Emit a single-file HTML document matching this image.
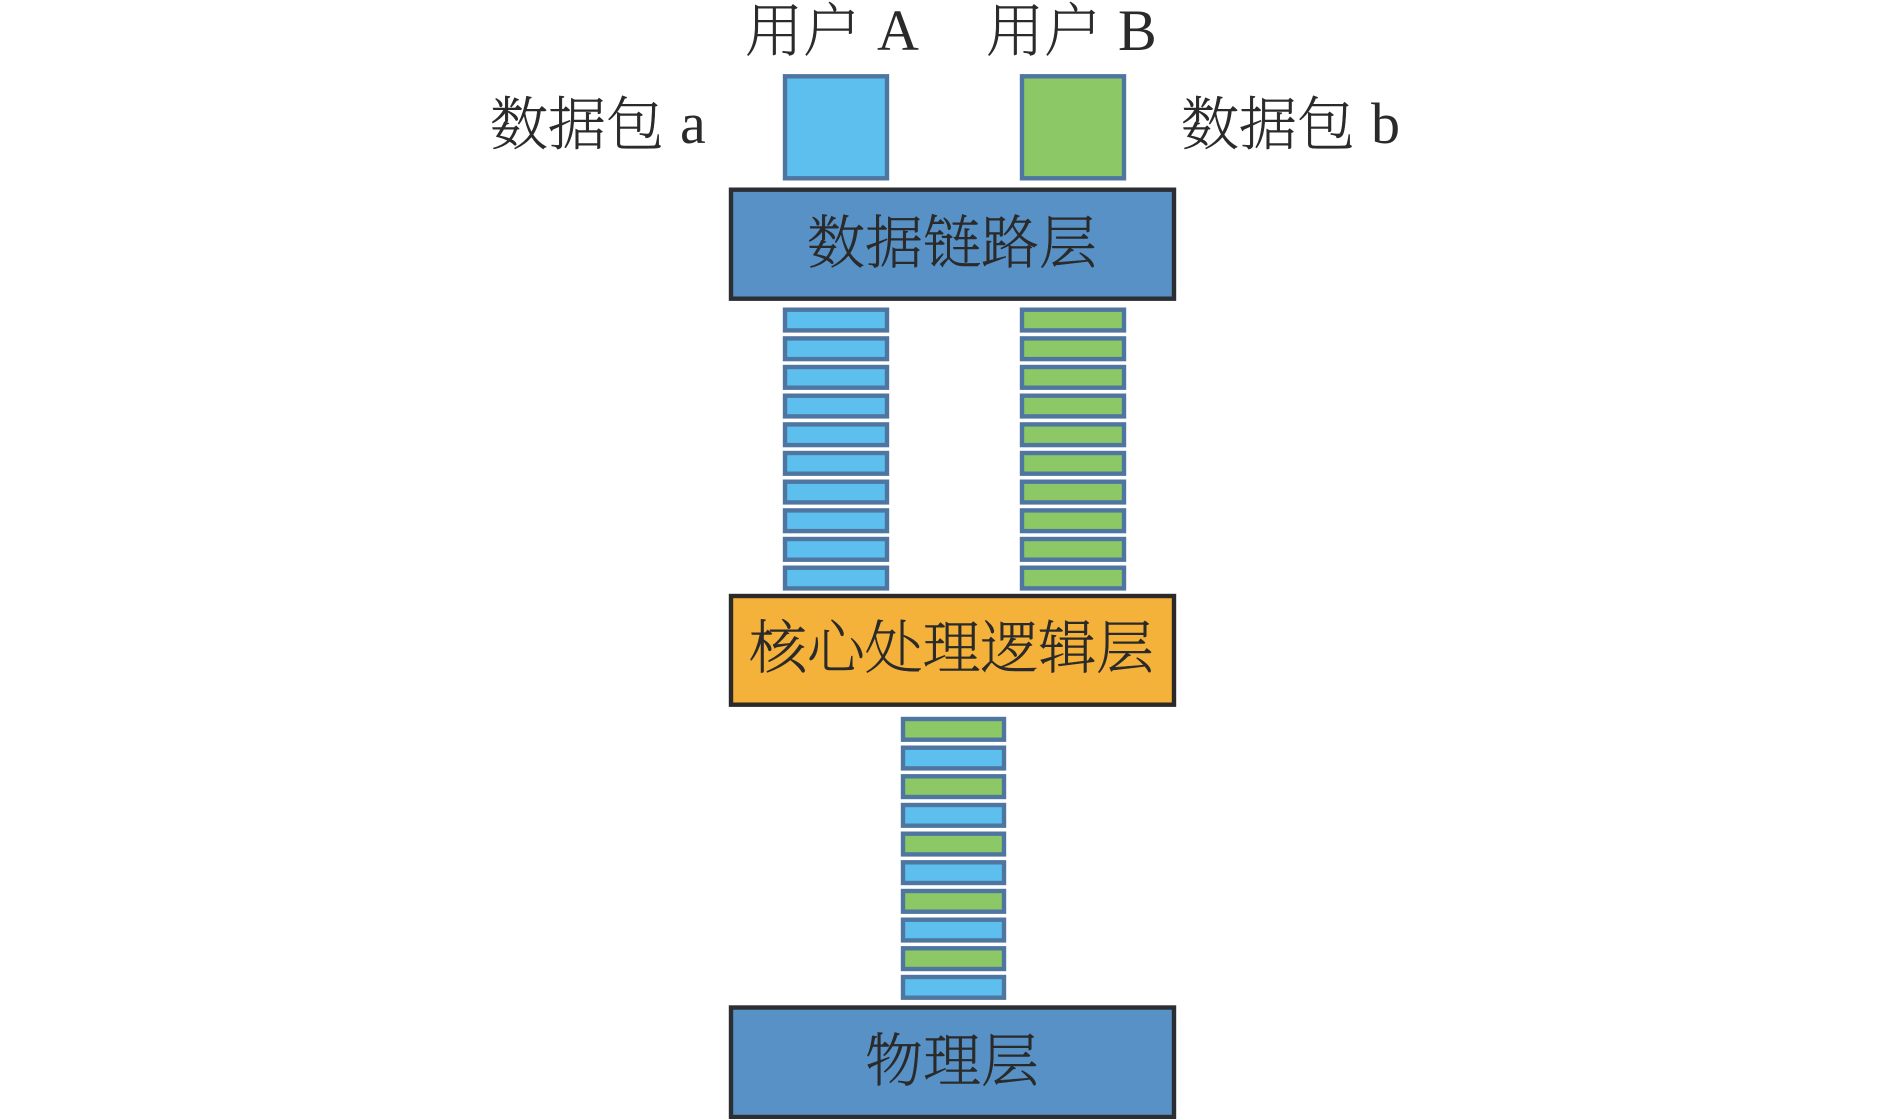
<!DOCTYPE html>
<html lang="zh">
<head>
<meta charset="utf-8">
<title>数据链路层</title>
<style>
html,body{margin:0;padding:0;background:#fff}
svg{display:block}
text{font-family:"Liberation Serif","Noto Serif CJK SC",serif;fill:#2a2a2a;font-size:58px}
.c{font-family:"Noto Serif CJK SC","Liberation Serif",serif;font-weight:200;stroke:#2a2a2a;stroke-width:.5px}
.a{fill:#5dbfee;stroke:#4f76a0;stroke-width:4.4}
.g{fill:#8cc865;stroke:#4f76a0;stroke-width:4.4}
.b{fill:#5791c6;stroke:#2b2e33;stroke-width:4.4}
.o{fill:#f5b23b;stroke:#2b2a28;stroke-width:4.4}
</style>
</head>
<body>
<svg width="1890" height="1119" viewBox="0 0 1890 1119" xmlns="http://www.w3.org/2000/svg">
<rect width="1890" height="1119" fill="#fff"/>

<text class="c" x="745" y="51">用户</text><text x="877" y="50">A</text>
<text class="c" x="986" y="51">用户</text><text x="1118" y="50">B</text>
<text class="c" x="490" y="144.5">数据包</text><text x="680" y="143">a</text>
<text class="c" x="1181" y="144.5">数据包</text><text x="1371" y="143">b</text>

<rect class="a" x="785" y="76.3" width="102" height="102"/>
<rect class="g" x="1022" y="76.3" width="102" height="102"/>

<rect class="b" x="731" y="189.7" width="443" height="109"/>
<text class="c" x="807" y="263">数据链路层</text>

<rect class="a" x="785" y="309.7" width="102" height="20.7"/>
<rect class="a" x="785" y="338.4" width="102" height="20.7"/>
<rect class="a" x="785" y="367" width="102" height="20.7"/>
<rect class="a" x="785" y="395.7" width="102" height="20.7"/>
<rect class="a" x="785" y="424.4" width="102" height="20.7"/>
<rect class="a" x="785" y="453" width="102" height="20.7"/>
<rect class="a" x="785" y="481.7" width="102" height="20.7"/>
<rect class="a" x="785" y="510.4" width="102" height="20.7"/>
<rect class="a" x="785" y="539" width="102" height="20.7"/>
<rect class="a" x="785" y="567.7" width="102" height="20.7"/>

<rect class="g" x="1022" y="309.7" width="102" height="20.7"/>
<rect class="g" x="1022" y="338.4" width="102" height="20.7"/>
<rect class="g" x="1022" y="367" width="102" height="20.7"/>
<rect class="g" x="1022" y="395.7" width="102" height="20.7"/>
<rect class="g" x="1022" y="424.4" width="102" height="20.7"/>
<rect class="g" x="1022" y="453" width="102" height="20.7"/>
<rect class="g" x="1022" y="481.7" width="102" height="20.7"/>
<rect class="g" x="1022" y="510.4" width="102" height="20.7"/>
<rect class="g" x="1022" y="539" width="102" height="20.7"/>
<rect class="g" x="1022" y="567.7" width="102" height="20.7"/>

<rect class="o" x="731" y="596" width="443" height="108.7"/>
<text class="c" x="749" y="668" textLength="405">核心处理逻辑层</text>

<rect class="g" x="903" y="719" width="101" height="20.7"/>
<rect class="a" x="903" y="747.7" width="101" height="20.7"/>
<rect class="g" x="903" y="776.3" width="101" height="20.7"/>
<rect class="a" x="903" y="805" width="101" height="20.7"/>
<rect class="g" x="903" y="833.7" width="101" height="20.7"/>
<rect class="a" x="903" y="862.3" width="101" height="20.7"/>
<rect class="g" x="903" y="891" width="101" height="20.7"/>
<rect class="a" x="903" y="919.7" width="101" height="20.7"/>
<rect class="g" x="903" y="948.3" width="101" height="20.7"/>
<rect class="a" x="903" y="977" width="101" height="20.7"/>

<rect class="b" x="731" y="1007.5" width="443" height="109.5"/>
<text class="c" x="865" y="1081">物理层</text>
</svg>
</body>
</html>
